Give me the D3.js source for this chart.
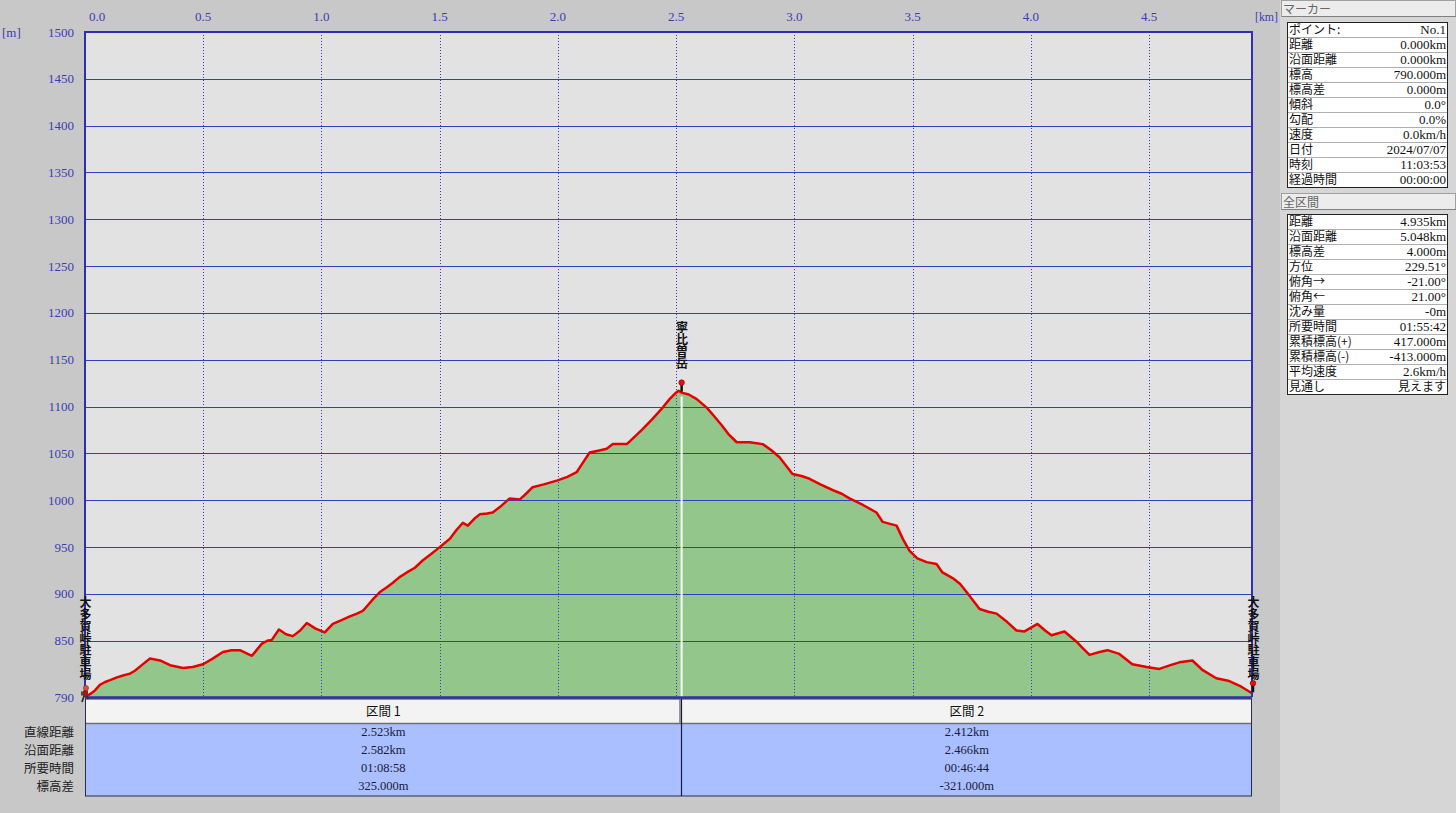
<!DOCTYPE html>
<html><head><meta charset="utf-8">
<script src="https://cdn.jsdelivr.net/npm/d3@7"></script>
<style>
html,body{margin:0;padding:0;background:#c8c8c8;overflow:hidden}
body{position:relative;width:1456px;height:813px}
svg{display:block;position:absolute;left:0;top:0}
text{font-family:"Liberation Serif","Noto Sans CJK JP",serif}
.jp{font-family:"Noto Sans CJK JP","Liberation Serif",sans-serif}
.vlab{position:absolute;writing-mode:vertical-rl;text-orientation:upright;font-family:"Noto Sans CJK JP",sans-serif;
  font-size:12px;line-height:12px;width:12px;font-weight:700;color:#111;letter-spacing:0;white-space:nowrap}
</style></head>
<body>
<script>
// ---- data ----
const xTicks = [0, 0.5, 1.0, 1.5, 2.0, 2.5, 3.0, 3.5, 4.0, 4.5];
const yTicks = [1500, 1450, 1400, 1350, 1300, 1250, 1200, 1150, 1100, 1050, 1000, 950, 900, 850, 790];
const distKm = [0.000,0.021,0.042,0.063,0.085,0.106,0.135,0.161,0.190,0.211,0.240,0.275,0.317,0.360,0.414,0.455,0.499,0.540,0.583,0.620,0.655,0.706,0.748,0.770,0.790,0.820,0.850,0.879,0.910,0.938,0.975,1.014,1.048,1.085,1.120,1.150,1.175,1.196,1.220,1.247,1.275,1.302,1.330,1.361,1.395,1.429,1.465,1.500,1.543,1.570,1.598,1.619,1.645,1.669,1.700,1.724,1.760,1.796,1.839,1.865,1.893,1.940,1.995,2.040,2.079,2.105,2.134,2.170,2.206,2.232,2.291,2.325,2.358,2.400,2.443,2.472,2.495,2.510,2.523,2.553,2.587,2.629,2.660,2.690,2.720,2.756,2.811,2.866,2.900,2.937,2.992,3.030,3.064,3.110,3.161,3.200,3.233,3.290,3.347,3.373,3.432,3.460,3.487,3.520,3.559,3.601,3.626,3.669,3.700,3.728,3.783,3.820,3.855,3.900,3.939,3.973,4.028,4.060,4.087,4.142,4.193,4.220,4.248,4.290,4.324,4.374,4.429,4.490,4.543,4.590,4.628,4.683,4.725,4.784,4.839,4.890,4.935];
const elevM = [790,793,797,803,806,808,811,813,815,818,824,831,829,824,821,822,825,831,838,840,840,834,847,850,851,862,857,855,861,869,863,859,868,872,876,879,882,888,895,902,907,912,918,923,928,936,943,950,959,968,976,973,980,985,986,987,994,1002,1001,1007,1014,1017,1021,1025,1030,1040,1051,1053,1055,1060,1060,1068,1076,1087,1099,1108,1114,1117,1115,1113,1108,1099,1090,1081,1071,1062,1062,1060,1054,1046,1028,1026,1023,1017,1011,1007,1002,995,987,977,973,958,946,938,934,932,923,917,911,902,884,881,879,870,861,860,868,861,856,860,849,842,835,838,840,836,825,822,820,824,827,829,819,810,807,801,794];
const waypointNames = ["大多賀峠駐車場", "寧比曽岳", "大多賀峠駐車場"];
const waypointKm = [0, 2.523, 4.935];
const waypointElev = [790, 1115, 794];
const segNames = ["区間 1", "区間 2"];
const segRowLabels = ["直線距離", "沿面距離", "所要時間", "標高差"];
const seg1Values = ["2.523km", "2.582km", "01:08:58", "325.000m"];
const seg2Values = ["2.412km", "2.466km", "00:46:44", "-321.000m"];
const markerLabels = ["ポイント:", "距離", "沿面距離", "標高", "標高差", "傾斜", "勾配", "速度", "日付", "時刻", "経過時間"];
const markerValues = ["No.1", "0.000km", "0.000km", "790.000m", "0.000m", "0.0°", "0.0%", "0.0km/h", "2024/07/07", "11:03:53", "00:00:00"];
const totalLabels = ["距離", "沿面距離", "標高差", "方位", "俯角→", "俯角←", "沈み量", "所要時間", "累積標高(+)", "累積標高(-)", "平均速度", "見通し"];
const totalValues = ["4.935km", "5.048km", "4.000m", "229.51°", "-21.00°", "21.00°", "-0m", "01:55:42", "417.000m", "-413.000m", "2.6km/h", "見えます"];

// ---- layout ----
const W = 1456, H = 813;
const L = 85, R = 1252, T = 32, B = 697;
const axisBlue = "#3c3cb4";
const svg = d3.select("body").append("svg").attr("width", W).attr("height", H);
svg.append("rect").attr("width", W).attr("height", H).attr("fill", "#c8c8c8");
svg.append("rect").attr("x", 1280).attr("y", 0).attr("width", 176).attr("height", H).attr("fill", "#d6d6d6");

const x = d3.scaleLinear().domain([0, 4.935]).range([L, R]);
const y = d3.scaleLinear().domain([790, 1500]).range([B, T]);

// plot bg
svg.append("rect").attr("x", L).attr("y", T).attr("width", R - L).attr("height", B - T).attr("fill", "#e2e2e2");

// area + line
const pts = distKm.map((d, i) => [d, elevM[i]]);
svg.append("path").datum(pts)
  .attr("d", d3.area().x(d => x(d[0])).y0(B).y1(d => y(d[1])))
  .attr("fill", "#93c68a");

// grid
svg.append("g").selectAll("line").data(yTicks).join("line")
  .attr("x1", L).attr("x2", R).attr("y1", d => Math.round(y(d)) + 0.5).attr("y2", d => Math.round(y(d)) + 0.5)
  .attr("stroke", "#2f3fbf").attr("stroke-width", 1.2);
svg.append("g").selectAll("line").data(xTicks.slice(1)).join("line")
  .attr("x1", d => Math.round(x(d)) + 0.5).attr("x2", d => Math.round(x(d)) + 0.5).attr("y1", T).attr("y2", B)
  .attr("stroke", "#2f3fbf").attr("stroke-width", 1).attr("stroke-dasharray", "1,2");

// peak white line
svg.append("line").attr("x1", x(waypointKm[1])).attr("x2", x(waypointKm[1]))
  .attr("y1", y(waypointElev[1]) + 4).attr("y2", B).attr("stroke", "#ffffff").attr("stroke-width", 2);

svg.append("path").datum(pts)
  .attr("d", d3.line().x(d => x(d[0])).y(d => y(d[1])))
  .attr("fill", "none").attr("stroke", "#e80000").attr("stroke-width", 2.5).attr("stroke-linejoin", "round");

// frame
svg.append("path").attr("d", `M${L},${B}V${T}H${R}V${B}`).attr("fill", "none").attr("stroke", "#2e2eb8").attr("stroke-width", 2);
svg.append("line").attr("x1", L).attr("x2", R).attr("y1", B + 0.5).attr("y2", B + 0.5).attr("stroke", "#2e2eb8").attr("stroke-width", 2.5);

// axis labels
svg.append("g").selectAll("text").data(xTicks).join("text")
  .attr("x", d => Math.max(x(d), 97)).attr("y", 21).attr("text-anchor", "middle")
  .attr("font-size", 13).attr("fill", axisBlue).text(d => d.toFixed(1));
svg.append("text").attr("x", 1255).attr("y", 21).attr("font-size", 12.5).attr("fill", axisBlue)
  .attr("textLength", 23).attr("lengthAdjust", "spacingAndGlyphs").text("[km]");
svg.append("g").selectAll("text").data(yTicks).join("text")
  .attr("x", 74).attr("y", d => y(d) + 4.5).attr("text-anchor", "end")
  .attr("font-size", 13).attr("fill", axisBlue).text(d => d);
svg.append("text").attr("x", 2).attr("y", 37).attr("font-size", 13).attr("fill", axisBlue).text("[m]");

// pins
function pin(px, py) {
  svg.append("line").attr("x1", px).attr("x2", px).attr("y1", py).attr("y2", py + 9).attr("stroke", "#111").attr("stroke-width", 2.5);
  svg.append("circle").attr("cx", px).attr("cy", py).attr("r", 2.8).attr("fill", "#e01010").attr("stroke", "#800").attr("stroke-width", 0.6);
}
pin(x(waypointKm[1]), y(waypointElev[1]) - 10);
pin(x(waypointKm[2]) + 1, y(waypointElev[2]) - 10);

// hiker icon at start
const hx = x(waypointKm[0]), hy = y(waypointElev[0]);
const hk = svg.append("g");
hk.append("circle").attr("cx", hx + 1).attr("cy", hy - 9).attr("r", 2.6).attr("fill", "#e05030").attr("stroke", "#802010").attr("stroke-width", 0.5);
hk.append("rect").attr("x", hx - 2).attr("y", hy - 6.5).attr("width", 5).attr("height", 6).attr("fill", "#a01818");
hk.append("rect").attr("x", hx - 4).attr("y", hy - 5.5).attr("width", 2.5).attr("height", 4).attr("fill", "#604030");
hk.append("line").attr("x1", hx - 1).attr("x2", hx - 3).attr("y1", hy - 1).attr("y2", hy + 5).attr("stroke", "#303030").attr("stroke-width", 1.8);
hk.append("line").attr("x1", hx + 2).attr("x2", hx + 4).attr("y1", hy - 1).attr("y2", hy + 5).attr("stroke", "#303030").attr("stroke-width", 1.8);

// segment table
const tTop = 699, tHead = 723, tBot = 796;
const bounds = [waypointKm[0], waypointKm[1], waypointKm[2]];
svg.append("rect").attr("x", L).attr("y", tTop).attr("width", R - L).attr("height", tHead - tTop).attr("fill", "#f3f3f3");
svg.append("rect").attr("x", L).attr("y", tHead).attr("width", R - L).attr("height", tBot - tHead).attr("fill", "#aabfff");
svg.append("line").attr("x1", L).attr("x2", R).attr("y1", tHead + 0.5).attr("y2", tHead + 0.5).attr("stroke", "#707070").attr("stroke-width", 1.5);
svg.append("rect").attr("x", L + 0.5).attr("y", tTop).attr("width", R - L - 1).attr("height", tBot - tTop).attr("fill", "none").attr("stroke", "#2a2a4a").attr("stroke-width", 1);
svg.append("line").attr("x1", Math.round(x(bounds[1])) - 0.5).attr("x2", Math.round(x(bounds[1])) - 0.5).attr("y1", tTop).attr("y2", tBot).attr("stroke", "#1a1a40").attr("stroke-width", 1.2);
svg.append("line").attr("x1", Math.round(x(bounds[1])) - 2).attr("x2", Math.round(x(bounds[1])) - 2).attr("y1", tTop).attr("y2", tHead).attr("stroke", "#777").attr("stroke-width", 1.5);
const segVals = [seg1Values, seg2Values];
segNames.forEach((n, i) => {
  const cx = (x(bounds[i]) + x(bounds[i + 1])) / 2;
  svg.append("text").attr("class", "jp").attr("x", cx).attr("y", 716).attr("text-anchor", "middle").attr("font-size", 12.5).attr("fill", "#111").text(n);
  segVals[i].forEach((v, j) => {
    svg.append("text").attr("x", cx).attr("y", 736 + j * 18).attr("text-anchor", "middle").attr("font-size", 12.5).attr("fill", "#1a1a3a").text(v);
  });
});
segRowLabels.forEach((l, j) => {
  svg.append("text").attr("class", "jp").attr("x", 74).attr("y", 737 + j * 18).attr("text-anchor", "end").attr("font-size", 12.5).attr("fill", "#222").text(l);
});

// right panel
function panelHeader(yTop, label) {
  svg.append("rect").attr("x", 1281.5).attr("y", yTop + 0.5).attr("width", 174).attr("height", 16).attr("fill", "#ececec").attr("stroke", "#a0a0a0");
  svg.append("line").attr("x1", 1282).attr("x2", 1456).attr("y1", yTop + 16.5).attr("y2", yTop + 16.5).attr("stroke", "#808080");
  svg.append("text").attr("class", "jp").attr("x", 1283).attr("y", yTop + 13.5).attr("font-size", 12).attr("fill", "#666").text(label);
}
function panelTable(yTop, labels, values) {
  const rh = 15, x0 = 1287, x1 = 1448;
  svg.append("rect").attr("x", x0).attr("y", yTop).attr("width", x1 - x0).attr("height", rh * labels.length).attr("fill", "#ffffff");
  labels.forEach((l, i) => {
    const yy = yTop + i * rh;
    svg.append("line").attr("x1", x0).attr("x2", x1).attr("y1", yy + rh + 0.5).attr("y2", yy + rh + 0.5).attr("stroke", "#9a9a9a").attr("stroke-width", 0.8);
    svg.append("text").attr("class", "jp").attr("x", x0 + 2).attr("y", yy + 12).attr("font-size", 12).attr("fill", "#111").text(l);
    const isJp = /[ぁ-ん]/.test(values[i]);
    svg.append("text").attr("x", x1 - 2).attr("y", yy + 12).attr("text-anchor", "end").attr("fill", "#111")
      .attr("class", isJp ? "jp" : null).attr("font-size", isJp ? 12 : 13).text(values[i]);
  });
  svg.append("rect").attr("x", x0 + 0.5).attr("y", yTop + 0.5).attr("width", x1 - x0 - 1).attr("height", rh * labels.length).attr("fill", "none").attr("stroke", "#222").attr("stroke-width", 1);
}
panelHeader(0, "マーカー");
panelTable(22, markerLabels, markerValues);
panelHeader(193, "全区間");
panelTable(214, totalLabels, totalValues);

// waypoint labels (vertical HTML text, one element each)
function vlabel(cx, topY, name) {
  d3.select("body").append("div").attr("class", "vlab")
    .style("left", (cx - 6) + "px").style("top", topY + "px").text(name);
}
vlabel(x(waypointKm[0]), 596, waypointNames[0]);
vlabel(x(waypointKm[1]), 321, waypointNames[1]);
vlabel(x(waypointKm[2]) + 1, 596, waypointNames[2]);
</script>
</body></html>
